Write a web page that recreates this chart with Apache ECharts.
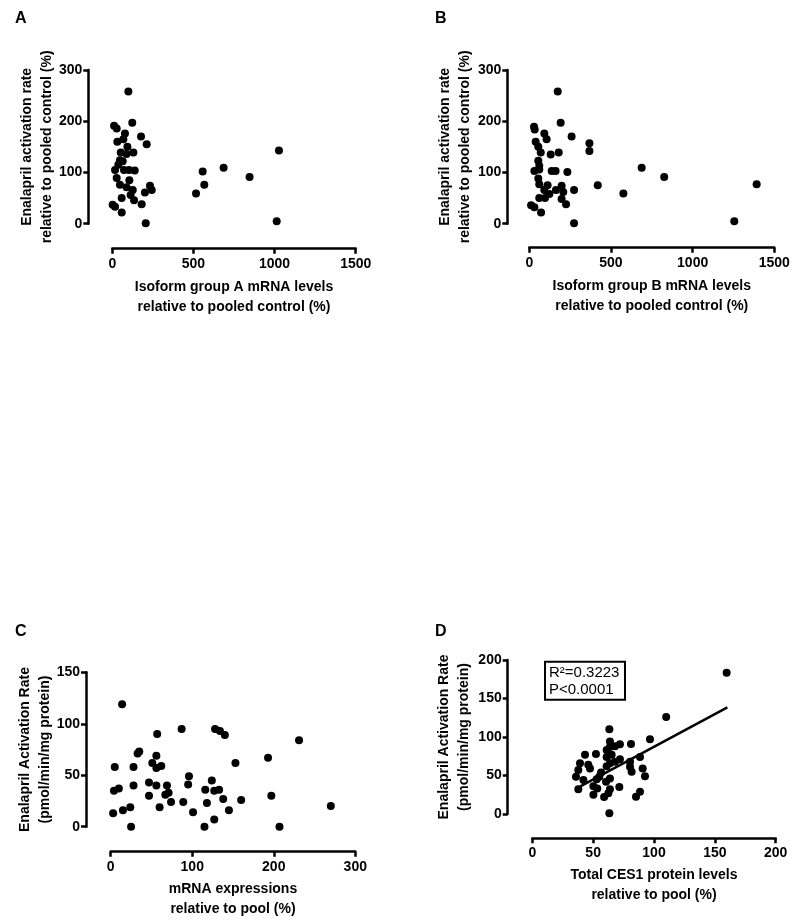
<!DOCTYPE html>
<html>
<head>
<meta charset="utf-8">
<script src="https://cdn.jsdelivr.net/npm/echarts@6/dist/echarts.min.js"></script>
<style>html,body{margin:0;padding:0;background:#fff}#c{width:800px;height:922px}</style>
</head>
<body>
<div id="c"></div>
<script>
// Panel A: Isoform group A mRNA (%) vs activation rate (%)
const aX = [99,123,11,27,78,177,68,31,212,93,52,130,88,47,64,17,37,72,103,138,27,105,47,88,126,113,134,232,243,201,58,181,2,17,58,206,557,567,516,686,846,1027,1013];
const aY = [258,197,191,186,176,170,165,160,155,150,139,139,136,124,122,105,115,105,105,104,89,85,76,71,66,56,46,74,66,61,50,38,37,33,22,1,102,76,59,109,91,143,5];
// Panel B: Isoform group B mRNA (%) vs activation rate (%)
const bX = [174,192,29,33,92,106,259,368,368,39,55,70,131,180,55,61,31,61,137,161,233,55,61,112,198,419,274,208,163,92,123,576,688,198,225,61,96,11,31,72,274,826,1392,1255];
const bY = [258,197,189,184,176,165,170,157,142,160,150,139,135,139,123,113,103,106,103,103,101,88,77,75,74,75,66,62,66,66,58,59,109,48,38,50,50,36,32,22,1,91,77,5];
// Panel C: mRNA expressions (%) vs activation rate (pmol/min/mg)
const cX = [14,87,128,134,140,57,231,33,35,56,193,51,153,62,56,5,28,96,47,56,69,95,124,28,10,4,67,71,47,127,133,116,197,138,160,74,89,118,270,24,60,15,145,101,3,127,25,115,207];
const cY = [119,95,95,93,89,90,84,71,73,69,67,62,62,59,57,58,58,49,43,40,40,41,45,40,37,35,31,33,30,35,36,36,30,27,26,24,24,23,20,19,19,16,16,14,13,7,0,0,0];
// Panel D: total CES1 protein (%) vs activation rate (pmol/min/mg)
const dX = [110,63.3,96.7,81.1,72,68,63.8,63.8,61.1,52.3,43.3,65.2,61.1,88.5,72,39.2,46,63.8,68,80.3,80.3,90.7,37.8,47.4,61.1,81.6,56.5,92.6,55.1,35.9,63.8,52.9,60.6,42,50.2,71.5,53.4,37.8,63.8,88.5,62.5,50.2,59,85.2,63.3,159.7];
const dY = [126,110,97,91,90.5,88,94,87,83,78,77,77,74,74,71,66,64,66,68,68,61.5,59,57,59,62,55,54,49,48.5,48.5,46,45,42,44,36,35,33,32,32,29,27,25,22,22.5,1,183.5];
// Regression line endpoints
const fitX = [36.4, 160.3];
const fitY = [33.3, 138.5];
const fitText = 'R\u00B2=0.3223\nP<0.0001';

const panelLetters = ['A','B','C','D'];
const xNames = ['Isoform group A mRNA levels\nrelative to pooled control (%)',
                'Isoform group B mRNA levels\nrelative to pooled control (%)',
                'mRNA expressions\nrelative to pool (%)',
                'Total CES1 protein levels\nrelative to pool (%)'];
const yNames = ['Enalapril activation rate\nrelative to pooled control (%)',
                'Enalapril activation rate\nrelative to pooled control (%)',
                'Enalapril Activation Rate\n(pmol/min/mg protein)',
                'Enalapril Activation Rate\n(pmol/min/mg protein)'];
const xRanges = [[0,1500,500],[0,1500,500],[0,300,100],[0,200,50]];
const yRanges = [[0,300,100],[0,300,100],[0,150,50],[0,200,50]];

const FONT = "'Liberation Sans', Arial, Helvetica, sans-serif";
const grids = [
  {left:112.3, top:70, width:243.4, height:153.7, yOff:24, xOff:25, yGap:31, xGap:28},
  {left:529.3, top:70, width:245, height:153.7, yOff:22, xOff:24, yGap:32, xGap:28},
  {left:110.7, top:672.3, width:244.6, height:154.4, yOff:24.7, xOff:25, yGap:31, xGap:27},
  {left:532.3, top:660, width:243.4, height:154, yOff:24.6, xOff:24.3, yGap:34, xGap:27}
];
const letterPos = [[15,11],[435,11],[15,624],[435,624]];

const axisStyle = {
  axisLine:{show:true, onZero:false, lineStyle:{color:'#000', width:2.5}},
  axisTick:{show:true, length:5, lineStyle:{color:'#000', width:2.5}},
  splitLine:{show:false},
  nameMoveOverlap:false,
  nameTextStyle:{color:'#000', fontFamily:FONT, fontWeight:'bold', fontSize:14, lineHeight:20},
};
const labelStyle = (m)=>({color:'#000', fontFamily:FONT, fontWeight:'bold', fontSize:14, margin:m, formatter:(v)=>String(v)});

const option = {
  animation:false,
  backgroundColor:'#fff',
  title: panelLetters.map((t,i)=>({text:t, left:letterPos[i][0], top:letterPos[i][1], padding:0,
      textStyle:{fontFamily:FONT, fontWeight:'bold', fontSize:16, color:'#000'}})).concat([{
      text: fitText, left:545, top:661.7, padding:[3,6,2,4], borderColor:'#000', borderWidth:2,
      textStyle:{fontFamily:FONT, fontWeight:'normal', fontSize:15, lineHeight:16.5, color:'#000'}
  }]),
  grid: grids.map(g=>({left:g.left, top:g.top, width:g.width, height:g.height, containLabel:false, outerBoundsMode:'none'})),
  xAxis: grids.map((g,i)=>Object.assign({}, axisStyle, {
    type:'value', gridIndex:i, min:xRanges[i][0], max:xRanges[i][1], interval:xRanges[i][2],
    position:'bottom', offset:g.xOff, name:xNames[i], nameLocation:'middle', nameGap:g.xGap,
    axisLabel:labelStyle(8)
  })),
  yAxis: grids.map((g,i)=>Object.assign({}, axisStyle, {
    type:'value', gridIndex:i, min:yRanges[i][0], max:yRanges[i][1], interval:yRanges[i][2],
    position:'left', offset:g.yOff, name:yNames[i], nameLocation:'middle', nameGap:g.yGap,
    axisLabel:labelStyle(6)
  })),
  series: [
    {type:'scatter', xAxisIndex:0, yAxisIndex:0, data:aX.map((x,i)=>[x,aY[i]])},
    {type:'scatter', xAxisIndex:1, yAxisIndex:1, data:bX.map((x,i)=>[x,bY[i]])},
    {type:'scatter', xAxisIndex:2, yAxisIndex:2, data:cX.map((x,i)=>[x,cY[i]])},
    {type:'scatter', xAxisIndex:3, yAxisIndex:3, data:dX.map((x,i)=>[x,dY[i]])},
    {type:'line', xAxisIndex:3, yAxisIndex:3, data:fitX.map((x,i)=>[x,fitY[i]]), symbol:'none',
      lineStyle:{color:'#000', width:2.5}, z:1}
  ].map(s=> s.type==='scatter' ? Object.assign(s,{symbol:'circle', symbolSize:8, itemStyle:{color:'#000', opacity:1}, clip:false, z:2}) : s)
};

const chart = echarts.init(document.getElementById('c'), null, {renderer:'canvas'});
chart.setOption(option);
</script>
</body>
</html>
